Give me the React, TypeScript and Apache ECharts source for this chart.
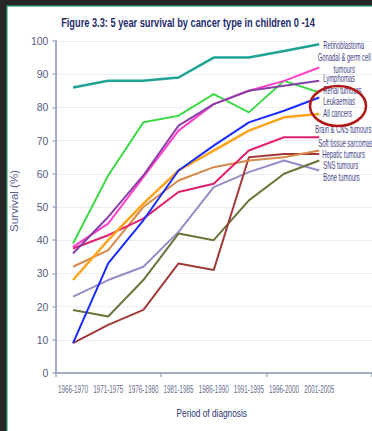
import React, { useEffect, useRef } from "react";
import * as echarts from "echarts";

// Periods of diagnosis; the trailing blank slot leaves room for the end labels
const periods = [
  "1966-1970",
  "1971-1975",
  "1976-1980",
  "1981-1985",
  "1986-1990",
  "1991-1995",
  "1996-2000",
  "2001-2005",
  "",
];

// 5 year survival (%) by cancer type
const retinoblastoma = [86, 88, 88, 89, 95, 95, 97, 99];
const gonadalGermCell = [38, 45, 59, 73, 81, 85, 88, 92];
const lymphomas = [36, 47, 59.5, 74.5, 81, 85, 86.5, 88];
const renalTumours = [39, 59.5, 75.5, 77.5, 84, 78.5, 88, 84.5];
const leukaemias = [9, 33, 46, 61, 68.5, 75.5, 79, 83];
const allCancers = [28, 40, 51, 61, 67, 73, 77, 78];
const brainCns = [37.5, 41.5, 46.5, 54.5, 57, 67, 71, 71];
const softTissueSarcomas = [32, 37, 50, 58, 62, 64, 65, 67];
const hepaticTumours = [9, 14.5, 19, 33, 31, 65, 66, 66];
const snsTumours = [19, 17, 28, 42, 40, 52, 60, 64];
const boneTumours = [23, 28, 32, 42.5, 56, 60.5, 64, 61];

const FONT = "'Liberation Sans', Arial, sans-serif";
const LABEL_COLOR = "#3f3f85";
const TICK_COLOR = "#656b8c";
const AXIS_COLOR = "#a4acc4";

type Line = {
  name: string;
  label: string;
  data: number[];
  color: string;
  width: number;
  // shift of the end label from the last point, in px
  offset: [number, number];
  align?: "left" | "center";
};

// Drawn in this order, so later lines sit on top
const lines: Line[] = [
  { name: "Bone tumours", label: "Bone tumours", data: boneTumours, color: "#9a8ac6", width: 2, offset: [4, 6.5] },
  { name: "SNS tumours", label: "SNS tumours", data: snsTumours, color: "#66773a", width: 2, offset: [4, 4.5] },
  { name: "Hepatic tumours", label: "Hepatic tumours", data: hepaticTumours, color: "#a23a3a", width: 2, offset: [3, 0] },
  { name: "Soft tissue sarcomas", label: "Soft tissue sarcomas", data: softTissueSarcomas, color: "#d68a4a", width: 2, offset: [-1, -7.6] },
  { name: "Brain & CNS tumours", label: "Brain & CNS tumours", data: brainCns, color: "#e0226e", width: 2, offset: [-4, -8.3] },
  { name: "All cancers", label: "All cancers", data: allCancers, color: "#ffa31a", width: 2.5, offset: [4, -1] },
  { name: "Leukaemias", label: "Leukaemias", data: leukaemias, color: "#1a2bff", width: 2, offset: [4, 3.6] },
  { name: "Renal tumours", label: "Renal tumours", data: renalTumours, color: "#3fd94a", width: 2, offset: [4, -2.5] },
  { name: "Gonadal & germ cell tumours", label: "Gonadal & germ cell\ntumours", data: gonadalGermCell, color: "#ff3fc8", width: 2, offset: [25, -4.6], align: "center" },
  { name: "Lymphomas", label: "Lymphomas", data: lymphomas, color: "#8a3fa8", width: 2, offset: [4, -2.8] },
  { name: "Retinoblastoma", label: "Retinoblastoma", data: retinoblastoma, color: "#1fa394", width: 2.5, offset: [4, 0.7] },
];

// A horizontally condensed text element
function narrowText(
  x: number,
  y: number,
  text: string,
  size: number,
  fill: string,
  scaleX: number,
  align: "left" | "center" | "right" = "left",
  weight = "normal",
  lineHeight?: number
) {
  return {
    type: "text",
    x,
    y,
    scaleX,
    silent: true,
    z: 50,
    style: {
      text,
      fill,
      font: `${weight} ${size}px ${FONT}`,
      align,
      verticalAlign: "middle",
      lineHeight: lineHeight ?? Math.round(size * 1.2),
    },
  };
}

export default function App() {
  const ref = useRef<HTMLDivElement>(null);

  useEffect(() => {
    if (!ref.current) return;
    const chart = echarts.init(ref.current, undefined, { renderer: "svg" });

    chart.setOption({
      animation: false,
      backgroundColor: "#ffffff",
      grid: { left: 39, right: -2, top: 41, bottom: 58, containLabel: false },
      xAxis: {
        type: "category",
        data: periods,
        boundaryGap: true,
        axisLine: { lineStyle: { color: AXIS_COLOR, width: 2 } },
        axisTick: { show: true, length: 4, lineStyle: { color: AXIS_COLOR, width: 1.5 } },
        axisLabel: { show: false },
        splitLine: { show: false },
      },
      yAxis: {
        type: "value",
        min: 0,
        max: 100,
        interval: 10,
        name: "Survival (%)",
        nameLocation: "middle",
        nameGap: 26,
        nameTextStyle: { color: "#5a6090", fontSize: 11.5, fontFamily: FONT, padding: [0, 0, 0, 12] },
        axisLine: { show: true, lineStyle: { color: AXIS_COLOR, width: 2 } },
        axisTick: { show: true, length: 3, lineStyle: { color: AXIS_COLOR, width: 1.5 } },
        axisLabel: { color: "#555c80", fontSize: 10.5, fontFamily: FONT, margin: 7 },
        splitLine: { show: true, lineStyle: { color: "#eeeef2", width: 1 } },
      },
      series: lines.map((l) => ({
        type: "line",
        name: l.name,
        data: l.data,
        showSymbol: false,
        symbol: "none",
        lineStyle: { color: l.color, width: l.width },
        itemStyle: { color: l.color },
        emphasis: { disabled: true },
      })),
    });

    const toPx = (i: number, v: number) =>
      chart.convertToPixel({ gridIndex: 0 }, [i, v]) as number[];

    const graphics: any[] = [
      // dark frame with a thin green edge
      { type: "rect", shape: { x: 0, y: 0, width: 372, height: 5 }, style: { fill: "#262626" }, silent: true },
      { type: "rect", shape: { x: 0, y: 0, width: 6, height: 431 }, style: { fill: "#262626" }, silent: true },
      { type: "rect", shape: { x: 6, y: 5, width: 366, height: 1.5 }, style: { fill: "#1e7a55" }, silent: true },
      { type: "rect", shape: { x: 6, y: 5, width: 1.5, height: 426 }, style: { fill: "#1e7a55" }, silent: true },
      narrowText(188, 22, "Figure 3.3: 5 year survival by cancer type in children 0 -14", 12.5, "#1f2d6e", 0.74, "center", "bold"),
    ];

    // period labels under the axis
    const [, axisY] = toPx(0, 0);
    periods.forEach((p, i) => {
      if (!p) return;
      const [x] = toPx(i, 0);
      graphics.push(narrowText(x, axisY + 16, p, 10, TICK_COLOR, 0.63, "center"));
    });

    // axis title, centred on the full axis
    const [x0] = toPx(0, 0);
    const [x8] = toPx(periods.length - 1, 0);
    graphics.push(narrowText((x0 + x8) / 2 - 2, axisY + 40, "Period of diagnosis", 11.5, "#2a3570", 0.72, "center"));

    // series names next to the last point of each line
    lines.forEach((l) => {
      const last = l.data.length - 1;
      const [x, y] = toPx(last, l.data[last]);
      graphics.push(
        narrowText(x + l.offset[0], y + l.offset[1], l.label, 10.5, LABEL_COLOR, 0.56, l.align ?? "left", "normal", 12)
      );
    });

    graphics.push({
      type: "ellipse",
      shape: { cx: 338, cy: 106, rx: 28, ry: 20 },
      style: { fill: "none", stroke: "#b01818", lineWidth: 2.5 },
      silent: true,
      z: 100,
    });

    chart.setOption({ graphic: graphics });

    return () => chart.dispose();
  }, []);

  return (
    <div
      ref={ref}
      style={{ position: "fixed", left: 0, top: 0, width: 372, height: 431 }}
    />
  );
}
